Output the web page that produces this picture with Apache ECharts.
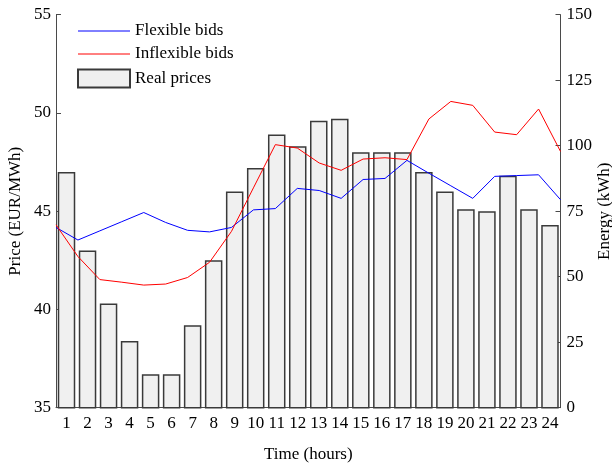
<!DOCTYPE html>
<html>
<head>
<meta charset="utf-8">
<style>
  html, body { margin: 0; padding: 0; background: #ffffff; }
  #chart { width: 612px; height: 463px; }
</style>
<script src="https://cdn.jsdelivr.net/npm/echarts@6/dist/echarts.min.js"></script>
</head>
<body>
<div id="chart"></div>
<script>
// Hour labels for the x axis
const hours = ['1','2','3','4','5','6','7','8','9','10','11','12',
               '13','14','15','16','17','18','19','20','21','22','23','24'];

// Real market prices (EUR/MWh), left axis
const realPrices = [47.0, 43.0, 40.3, 38.4, 36.7, 36.7, 39.2, 42.5, 46.0, 47.2, 48.9, 48.3,
                    49.6, 49.7, 48.0, 48.0, 48.0, 47.0, 46.0, 45.1, 45.0, 46.8, 45.1, 44.3];

// Energy of flexible bids (kWh), right axis
const flexibleBids = [68.8, 64.0, 67.5, 71.0, 74.5, 70.7, 67.7, 67.1, 68.8, 75.5, 76.0, 83.7,
                      82.9, 79.9, 87.1, 87.5, 94.4, 89.5, 84.7, 79.9, 88.3, 88.6, 88.9, 79.4];

// Energy of inflexible bids (kWh), right axis
const inflexibleBids = [69.8, 57.7, 48.9, 47.9, 46.8, 47.2, 49.7, 55.5, 67.3, 83.9, 100.4, 99.1,
                        93.4, 90.6, 94.9, 95.4, 94.7, 110.2, 116.9, 115.4, 105.2, 104.2, 114.0, 97.8];

// Axis ranges and tick steps
const priceAxis = { min: 35, max: 55, step: 5 };
const energyAxis = { min: 0, max: 150, step: 25 };

const FONT = 'Liberation Serif';
const AXIS_COLOR = '#4a4a4a';
const BLUE = '#0000ff';
const RED = '#ff0000';
const textStyle = { fontFamily: FONT, fontSize: 17, color: '#000000' };

// Line entries of the legend: keep the plain stroke, hide the marker dot
function lineLegendItem(name, color) {
  return {
    name: name,
    itemStyle: { opacity: 0 },
    lineStyle: { color: color, width: 1, opacity: 1 }
  };
}

const chart = echarts.init(document.getElementById('chart'), null, { renderer: 'canvas' });

chart.setOption({
  animation: false,
  backgroundColor: '#ffffff',
  textStyle: textStyle,
  grid: {
    left: 56, right: 51.5, top: 14.7, bottom: 55.3,
    containLabel: false,
    outerBoundsMode: 'none'
  },
  legend: {
    orient: 'vertical',
    left: 72,
    top: 17.5,
    itemWidth: 52,
    itemHeight: 18,
    itemGap: 6,
    textStyle: textStyle,
    data: [
      lineLegendItem('Flexible bids', BLUE),
      lineLegendItem('Inflexible bids', RED),
      { name: 'Real prices', icon: 'rect' }
    ]
  },
  xAxis: [
    {
      type: 'category',
      data: hours,
      boundaryGap: true,
      position: 'bottom',
      name: 'Time (hours)',
      nameLocation: 'middle',
      nameGap: 38,
      nameMoveOverlap: false,
      nameTextStyle: textStyle,
      axisLine: { show: true, lineStyle: { color: AXIS_COLOR, width: 1 } },
      axisTick: { show: false },
      axisLabel: { margin: 7, fontFamily: FONT, fontSize: 17, color: '#000', interval: 0 },
      splitLine: { show: false }
    },
    {
      // point positions for the bid lines span the full axis width
      type: 'category',
      data: hours,
      boundaryGap: false,
      position: 'bottom',
      show: false
    }
  ],
  yAxis: [
    {
      type: 'value',
      position: 'left',
      min: priceAxis.min,
      max: priceAxis.max,
      interval: priceAxis.step,
      name: 'Price (EUR/MWh)',
      nameLocation: 'middle',
      nameGap: 32,
      nameMoveOverlap: false,
      nameRotate: 90,
      nameTextStyle: textStyle,
      axisLine: { show: true, lineStyle: { color: AXIS_COLOR, width: 1 } },
      axisTick: { show: true, inside: true, length: 5, lineStyle: { color: AXIS_COLOR } },
      axisLabel: { margin: 5, fontFamily: FONT, fontSize: 17, color: '#000' },
      splitLine: { show: false }
    },
    {
      type: 'value',
      position: 'right',
      min: energyAxis.min,
      max: energyAxis.max,
      interval: energyAxis.step,
      name: 'Energy (kWh)',
      nameLocation: 'middle',
      nameGap: 36,
      nameMoveOverlap: false,
      nameRotate: 90,
      nameTextStyle: textStyle,
      axisLine: { show: true, lineStyle: { color: AXIS_COLOR, width: 1 } },
      axisTick: { show: true, inside: true, length: 5, lineStyle: { color: AXIS_COLOR } },
      axisLabel: { margin: 6, fontFamily: FONT, fontSize: 17, color: '#000' },
      splitLine: { show: false }
    }
  ],
  series: [
    {
      name: 'Real prices',
      type: 'bar',
      xAxisIndex: 0,
      yAxisIndex: 0,
      data: realPrices,
      barWidth: 17.5,
      itemStyle: { color: '#f0f0f0', borderColor: '#3a3a3a', borderWidth: 1.5 },
      z: 1
    },
    {
      name: 'Flexible bids',
      type: 'line',
      xAxisIndex: 1,
      yAxisIndex: 1,
      data: flexibleBids,
      symbol: 'none',
      lineStyle: { color: BLUE, width: 1 },
      itemStyle: { color: BLUE },
      z: 3
    },
    {
      name: 'Inflexible bids',
      type: 'line',
      xAxisIndex: 1,
      yAxisIndex: 1,
      data: inflexibleBids,
      symbol: 'none',
      lineStyle: { color: RED, width: 1 },
      itemStyle: { color: RED },
      z: 3
    }
  ]
});
</script>
</body>
</html>
